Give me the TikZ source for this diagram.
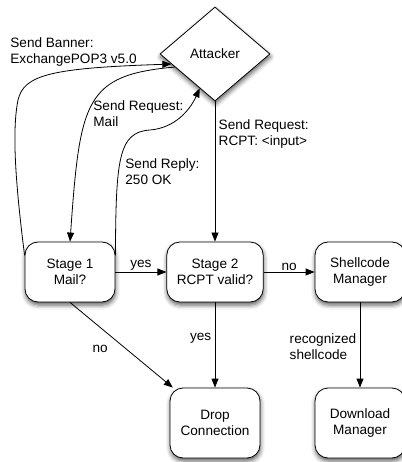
\documentclass[tikz,border=0pt]{standalone}
\usepackage{fontspec}
\setmainfont{Liberation Sans}
\usetikzlibrary{positioning,shapes.geometric,arrows.meta,shadows.blur}

\begin{document}
\begin{tikzpicture}[>={Triangle[length=9pt,width=7pt]},x=1pt,y=1pt,node distance=145pt,line width=0.8pt,
    font=\fontsize{13.6}{16}\selectfont,align=center,
    soft/.style={blur shadow={shadow xshift=0.5pt,shadow yshift=-3pt,shadow blur radius=4.5pt,shadow opacity=65}},
    box/.style={draw,rectangle,rounded corners=13pt,fill=white,minimum width=90pt,minimum height=60pt,inner xsep=10pt,soft},
    attacker/.style={draw,diamond,aspect=1.17,fill=white,minimum width=110pt,minimum height=94pt,inner sep=0pt,soft}]
    \useasboundingbox (-70,-190) rectangle (331,272);

    \node[box] (B)                                    {Stage 1\\Mail?};
    \node[box] (C) [right of=B]                       {Stage 2\\RCPT valid?};
    \node[box] (D) [right of=C]                       {Shellcode\\Manager};
    \node[attacker] (A) [above of=C,node distance=218pt] {Attacker};
    \node[box,minimum height=70pt] (E) [below of=C,node distance=151pt] {Drop\\Connection};
    \node[box,minimum height=70pt] (F) [below of=D,node distance=151pt] {Download\\Manager};

    % the talk between attacker and stage 1
    \draw[->] (B.160) .. controls (-55,92) and (-58,142) .. (-52,172)
                      .. controls (-46,197) and (-20,204) .. (A.193);
    \draw[->] (A.198) .. controls (15,197) and (10,172) .. (B.north);
    \draw[->] (B.20) .. controls (46,112) and (48,140) .. (80,142)
                     .. controls (105,144) and (120,162) .. (A.246);

    \node[anchor=north west,inner sep=0pt,align=left] (banner) at (-60,235) {Send Banner:\\ExchangePOP3 v5.0};
    \node[anchor=north west,inner sep=0pt,align=left] (mail)   at (23,172)  {Send Request:\\Mail};
    \node[anchor=north west,inner sep=0pt,align=left] (reply)  at (55,114)  {Send Reply:\\250 OK};

    \path[->]
    (A) edge              node[right,pos=0.23,align=left] (rcpt) {Send Request:\\RCPT: <input>} (C)
    (B) edge              node[above,inner sep=1pt] (yes1) {yes} (C)
    (C) edge              node[above,inner sep=1pt] (no1) {no} (D)
    (C) edge              node[left,pos=0.42] (yes2) {yes} (E)
    (D) edge              node[left,pos=0.52,align=left] (rec) {recognized\\shellcode} (F)
    (B.south) edge        node[pos=0.55,left=15pt] (no2) {no} (E.140);
\end{tikzpicture}
\end{document}
